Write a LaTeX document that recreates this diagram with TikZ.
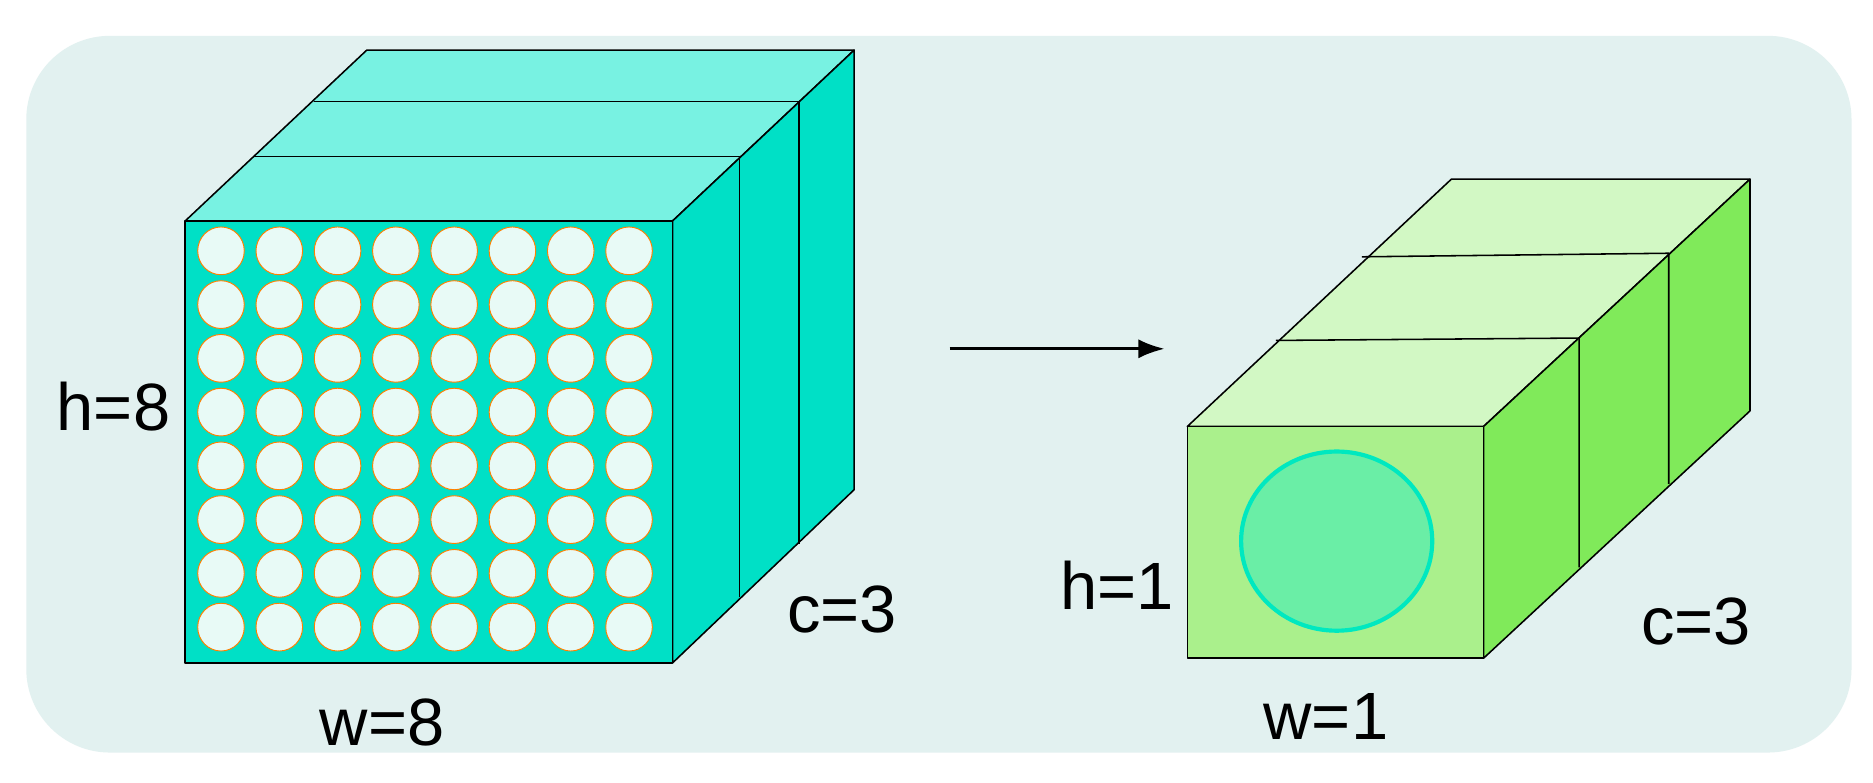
\documentclass[tikz,border=0pt]{standalone}
\usepackage{fontspec}
\setmainfont{Liberation Sans}
\usetikzlibrary{arrows.meta}
\begin{document}
\begin{tikzpicture}[x=1pt,y=-1pt,line join=round,
  edge/.style={draw=black,line width=1.3pt},
  lbl/.style={font=\fontsize{56}{60}\selectfont,inner sep=0pt},
  dot/.style={draw=orange,fill=dotfill,line width=0.8pt}]
\definecolor{bg}{HTML}{E2F1F0}
\definecolor{cfront}{HTML}{00E0C6}
\definecolor{ctop}{HTML}{78F2E2}
\definecolor{dotfill}{HTML}{E8FAF6}
\definecolor{gfront}{HTML}{AAF08C}
\definecolor{gside}{HTML}{80EA5A}
\definecolor{gtop}{HTML}{D2F8C4}
\definecolor{ring}{HTML}{00E8C0}
\definecolor{disc}{HTML}{6AEEA6}
\useasboundingbox (0,0) rectangle (1568,655);
\fill[white] (0,0) rectangle (1568,655);
\fill[bg,rounded corners=70pt] (22,30) rectangle (1550,630);
% left cube
\filldraw[edge,fill=ctop] (155,185) -- (307,42) -- (715,42) -- (563,185) -- cycle;
\filldraw[edge,fill=cfront] (563,185) -- (715,42) -- (715,410) -- (563,555) -- cycle;
\filldraw[edge,fill=cfront] (155,185) rectangle (563,555);
\draw[edge] (213,131) -- (619,131) -- (619,500);
\draw[edge] (263,85) -- (669,85) -- (669,455);
\foreach \i in {0,...,7}{\foreach \j in {0,...,7}{
  \draw[dot] ({185+\i*48.8},{210+\j*45}) ellipse (19.5 and 20);}}
% arrow
\coordinate (a1) at (795,292); \coordinate (a2) at (975,292);
\draw[line width=2.5pt,-{Latex[length=22pt,width=16pt]}] (a1) -- (a2);
% right cube
\filldraw[edge,fill=gtop] (994,357) -- (1215,150) -- (1465,150) -- (1242,357) -- cycle;
\filldraw[edge,fill=gside] (1242,357) -- (1465,150) -- (1465,344) -- (1242,551) -- cycle;
\filldraw[edge,fill=gfront] (994,357) rectangle (1242,551);
\draw[edge] (1068,285) -- (1322,283) -- (1322,475);
\draw[edge] (1140,215) -- (1397,212) -- (1397,405);
\filldraw[draw=ring,fill=disc,line width=3.5pt] (1119,453) ellipse (80 and 75);
% labels
\node[lbl] (h8) at (95,340) {h=8};
\node[lbl] (w8) at (320,605) {w=8};
\node[lbl] (c3a) at (705,510) {c=3};
\node[lbl] (h1) at (935,490) {h=1};
\node[lbl] (w1) at (1110,600) {w=1};
\node[lbl] (c3b) at (1420,520) {c=3};
\end{tikzpicture}
\end{document}
